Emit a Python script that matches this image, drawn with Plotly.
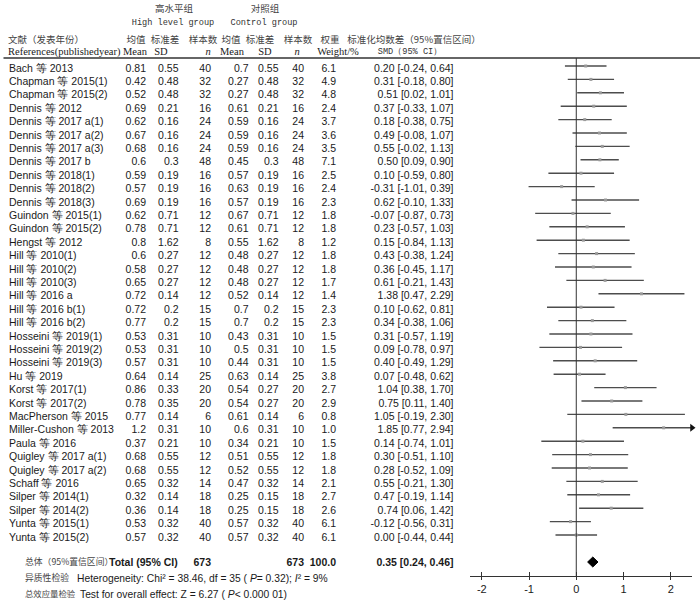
import plotly.graph_objects as go

# ---------------- data ----------------
studies = ["Bach 等 2013", "Chapman 等 2015(1)", "Chapman 等 2015(2)", "Dennis 等 2012",
           "Dennis 等 2017 a(1)", "Dennis 等 2017 a(2)", "Dennis 等 2017 a(3)", "Dennis 等 2017 b",
           "Dennis 等 2018(1)", "Dennis 等 2018(2)", "Dennis 等 2018(3)", "Guindon 等 2015(1)",
           "Guindon 等 2015(2)", "Hengst 等 2012", "Hill 等 2010(1)", "Hill 等 2010(2)",
           "Hill 等 2010(3)", "Hill 等 2016 a", "Hill 等 2016 b(1)", "Hill 等 2016 b(2)",
           "Hosseini 等 2019(1)", "Hosseini 等 2019(2)", "Hosseini 等 2019(3)", "Hu 等 2019",
           "Korst 等 2017(1)", "Korst 等 2017(2)", "MacPherson 等 2015", "Miller-Cushon 等 2013",
           "Paula 等 2016", "Quigley 等 2017 a(1)", "Quigley 等 2017 a(2)", "Schaff 等 2016",
           "Silper 等 2014(1)", "Silper 等 2014(2)", "Yunta 等 2015(1)", "Yunta 等 2015(2)"]
high_mean = [0.81, 0.42, 0.52, 0.69, 0.62, 0.67, 0.68, 0.6, 0.59, 0.57, 0.69, 0.62, 0.78, 0.8,
             0.6, 0.58, 0.65, 0.72, 0.72, 0.77, 0.53, 0.53, 0.57, 0.64, 0.86, 0.78, 0.77, 1.2,
             0.37, 0.68, 0.68, 0.65, 0.32, 0.36, 0.53, 0.57]
high_sd = [0.55, 0.48, 0.48, 0.21, 0.16, 0.16, 0.16, 0.3, 0.19, 0.19, 0.19, 0.71, 0.71, 1.62,
           0.27, 0.27, 0.27, 0.14, 0.2, 0.2, 0.31, 0.31, 0.31, 0.14, 0.33, 0.35, 0.14, 0.31,
           0.21, 0.55, 0.55, 0.32, 0.14, 0.14, 0.32, 0.32]
high_n = [40, 32, 32, 16, 24, 24, 24, 48, 16, 16, 16, 12, 12, 8, 12, 12, 12, 12, 15, 15,
          10, 10, 10, 25, 20, 20, 6, 10, 10, 12, 12, 14, 18, 18, 40, 40]
ctrl_mean = [0.7, 0.27, 0.27, 0.61, 0.59, 0.59, 0.59, 0.45, 0.57, 0.63, 0.57, 0.67, 0.61, 0.55,
             0.48, 0.48, 0.48, 0.52, 0.7, 0.7, 0.43, 0.5, 0.44, 0.63, 0.54, 0.54, 0.61, 0.6,
             0.34, 0.51, 0.52, 0.47, 0.25, 0.25, 0.57, 0.57]
ctrl_sd = [0.55, 0.48, 0.48, 0.21, 0.16, 0.16, 0.16, 0.3, 0.19, 0.19, 0.19, 0.71, 0.71, 1.62,
           0.27, 0.27, 0.27, 0.14, 0.2, 0.2, 0.31, 0.31, 0.31, 0.14, 0.27, 0.27, 0.14, 0.31,
           0.21, 0.55, 0.55, 0.32, 0.15, 0.15, 0.32, 0.32]
ctrl_n = [40, 32, 32, 16, 24, 24, 24, 48, 16, 16, 16, 12, 12, 8, 12, 12, 12, 12, 15, 15,
          10, 10, 10, 25, 20, 20, 6, 10, 10, 12, 12, 14, 18, 18, 40, 40]
weight = [6.1, 4.9, 4.8, 2.4, 3.7, 3.6, 3.5, 7.1, 2.5, 2.4, 2.3, 1.8, 1.8, 1.2, 1.8, 1.8, 1.7,
          1.4, 2.3, 2.3, 1.5, 1.5, 1.5, 3.8, 2.7, 2.9, 0.8, 1.0, 1.5, 1.8, 1.8, 2.1, 2.7, 2.6,
          6.1, 6.1]
smd = [0.20, 0.31, 0.51, 0.37, 0.18, 0.49, 0.55, 0.50, 0.10, -0.31, 0.62, -0.07, 0.23, 0.15,
       0.43, 0.36, 0.61, 1.38, 0.10, 0.34, 0.31, 0.09, 0.40, 0.07, 1.04, 0.75, 1.05, 1.85,
       0.14, 0.30, 0.28, 0.55, 0.47, 0.74, -0.12, 0.00]
ci_low = [-0.24, -0.18, 0.02, -0.33, -0.38, -0.08, -0.02, 0.09, -0.59, -1.01, -0.10, -0.87,
          -0.57, -0.84, -0.38, -0.45, -0.21, 0.47, -0.62, -0.38, -0.57, -0.78, -0.49, -0.48,
          0.38, 0.11, -0.19, 0.77, -0.74, -0.51, -0.52, -0.21, -0.19, 0.06, -0.56, -0.44]
ci_high = [0.64, 0.80, 1.01, 1.07, 0.75, 1.07, 1.13, 0.90, 0.80, 0.39, 1.33, 0.73, 1.03, 1.13,
           1.24, 1.17, 1.43, 2.29, 0.81, 1.06, 1.19, 0.97, 1.29, 0.62, 1.70, 1.40, 2.30, 2.94,
           1.01, 1.10, 1.09, 1.30, 1.14, 1.42, 0.31, 0.44]

total_high_n = 673
total_ctrl_n = 673
total_weight = 100.0
total_smd, total_low, total_high = 0.35, 0.24, 0.46
het_chi2, het_df, het_p, het_i2 = 38.46, 35, 0.32, 9
overall_z = 6.27
axis_ticks = [-2, -1, 0, 1, 2]

# ---------------- layout constants ----------------
W, H = 700, 609
ROW0, STEP = 69, 13.4
FOREST_SHIFT = -3
Y_RULE = 58
Y_TOTAL, Y_DIAMOND, Y_AXIS = 563, 562, 576
Y_HET, Y_TEST = 579, 595
XMIN, XMAX = -2.25, 2.45
FX0, FX1 = 470, 692

SANS = "Liberation Sans, Arial, sans-serif"
SERIF = "Liberation Serif, Times New Roman, serif"
MONO = "Liberation Mono, Courier New, monospace"
CJK = "Noto Sans CJK SC"
TXT = "#1a1a1a"
CJKC = "#444444"

ys = [ROW0 + i * STEP for i in range(len(studies))]
yf = [y + FOREST_SHIFT for y in ys]

fig = go.Figure()


def text_col(x, texts, yvals, pos="middle left", family=SANS, size=10.5, color=TXT):
    fig.add_trace(go.Scatter(
        x=[x] * len(texts), y=yvals, text=texts, mode="text", textposition=pos,
        textfont=dict(family=family, size=size, color=color),
        hoverinfo="skip", showlegend=False, cliponaxis=False, xaxis="x", yaxis="y"))


# header
text_col(174, ["高水平组"], [10], "middle center", CJK, 9.5, CJKC)
text_col(265, ["对照组"], [10], "middle center", CJK, 9.5, CJKC)
text_col(173, ["High level group"], [23], "middle center", MONO, 8.6, "#333333")
text_col(264, ["Control group"], [23], "middle center", MONO, 8.6, "#333333")

text_col(8, ["文献（发表年份）"], [41], "middle right", CJK, 9.5, CJKC)
for xc, t in [(136, "均值"), (165, "标准差"), (203, "样本数"), (231, "均值"), (260, "标准差"),
              (298, "样本数"), (330, "权重"), (414, "标准化均数差（95%置信区间）")]:
    text_col(xc, [t], [41], "middle center", CJK, 9.5, CJKC)

text_col(8, ["References(publishedyear)"], [52], "middle right", SERIF, 10.5)
for xc, t in [(135, "Mean"), (161, "SD"), (208, "<i>n</i>"), (232, "Mean"), (265, "SD"),
              (297, "<i>n</i>"), (338, "Weight/%")]:
    text_col(xc, [t], [52], "middle center", SERIF, 10.5)
text_col(410, ["SMD（95% CI）"], [52], "middle center", MONO, 8.6, "#333333")

# body columns
text_col(9, studies, ys, "middle right")
text_col(146, [str(v) for v in high_mean], ys)
text_col(178.5, [str(v) for v in high_sd], ys)
text_col(211, [str(v) for v in high_n], ys)
text_col(248.5, [str(v) for v in ctrl_mean], ys)
text_col(278.5, [str(v) for v in ctrl_sd], ys)
text_col(304, [str(v) for v in ctrl_n], ys)
text_col(336, [f"{v:.1f}" for v in weight], ys)
text_col(453.5, [f"{s:.2f} [{l:.2f}, {h:.2f}]" for s, l, h in zip(smd, ci_low, ci_high)], ys)

# total row
text_col(25, ["总体（95%置信区间）"], [Y_TOTAL], "middle right", CJK, 8.8, CJKC)
text_col(109, ["<b>Total (95% CI)</b>"], [Y_TOTAL], "middle right")
text_col(211, [f"<b>{total_high_n}</b>"], [Y_TOTAL])
text_col(304, [f"<b>{total_ctrl_n}</b>"], [Y_TOTAL])
text_col(336, [f"<b>{total_weight:.1f}</b>"], [Y_TOTAL])
text_col(453.5, [f"<b>{total_smd:.2f} [{total_low:.2f}, {total_high:.2f}]</b>"], [Y_TOTAL])

text_col(25, ["异质性检验"], [Y_HET], "middle right", CJK, 8.8, CJKC)
text_col(77, [f"Heterogeneity: Chi² = {het_chi2:.2f}, df = {het_df} ( <i>P</i>= {het_p:.2f}); "
              f"<i>I</i>² = {het_i2}%"], [Y_HET], "middle right", SANS, 10.3)
text_col(25, ["总效应量检验"], [Y_TEST], "middle right", CJK, 8.4, CJKC)
text_col(80, [f"Test for overall effect: Z = {overall_z:.2f} ( <i>P</i>&lt; 0.000 01)"],
         [Y_TEST], "middle right", SANS, 10.3)

# forest: CI lines
lx, ly, ax, ay = [], [], [], []
for lo, hi, y in zip(ci_low, ci_high, yf):
    lx += [max(lo, XMIN), min(hi, XMAX), None]
    ly += [y, y, None]
    if hi > XMAX:
        ax.append(XMAX)
        ay.append(y)
fig.add_trace(go.Scatter(x=lx, y=ly, mode="lines", line=dict(color="#4d4d4d", width=1.4),
                         xaxis="x2", yaxis="y", hoverinfo="skip", showlegend=False))
fig.add_trace(go.Scatter(x=smd, y=yf, mode="markers",
                         marker=dict(symbol="square", size=3, color="#9a9a9a"),
                         xaxis="x2", yaxis="y", hoverinfo="skip", showlegend=False))
fig.add_trace(go.Scatter(x=ax, y=ay, mode="markers",
                         marker=dict(symbol="triangle-right", size=7, color="#111111"),
                         xaxis="x2", yaxis="y", hoverinfo="skip", showlegend=False,
                         cliponaxis=False))
# diamond for total
fig.add_trace(go.Scatter(
    x=[total_low, total_smd, total_high, total_smd, total_low],
    y=[Y_DIAMOND, Y_DIAMOND - 5, Y_DIAMOND, Y_DIAMOND + 5, Y_DIAMOND],
    mode="lines", fill="toself", fillcolor="#000000", line=dict(color="#000000", width=1),
    xaxis="x2", yaxis="y", hoverinfo="skip", showlegend=False))
# helper trace so the tick overlay axis is drawn
fig.add_trace(go.Scatter(x=[0], y=[Y_AXIS], mode="markers", marker=dict(opacity=0),
                         xaxis="x3", yaxis="y", hoverinfo="skip", showlegend=False))

fig.add_shape(type="line", xref="paper", yref="y", x0=0.005, x1=1, y0=Y_RULE, y1=Y_RULE,
              line=dict(color="#333333", width=1.5))
fig.add_shape(type="line", xref="x2", yref="y", x0=0, x1=0, y0=Y_RULE, y1=Y_AXIS,
              line=dict(color="#333333", width=1))

fig.update_layout(
    width=W, height=H, margin=dict(l=0, r=0, t=0, b=0),
    paper_bgcolor="white", plot_bgcolor="rgba(0,0,0,0)",
    xaxis=dict(domain=[0, 1], range=[0, W], visible=False, fixedrange=True),
    yaxis=dict(domain=[0, 1], range=[H, 0], visible=False, fixedrange=True),
    xaxis2=dict(domain=[FX0 / W, FX1 / W], range=[XMIN, XMAX], anchor="free",
                position=1 - Y_AXIS / H, showline=True, linecolor="#333333", linewidth=1,
                ticks="outside", ticklen=3, tickcolor="#333333", tickvals=axis_ticks,
                ticktext=[str(t) for t in axis_ticks],
                tickfont=dict(family=SANS, size=11, color=TXT),
                showgrid=False, zeroline=False, fixedrange=True),
    xaxis3=dict(domain=[FX0 / W, FX1 / W], range=[XMIN, XMAX], anchor="free",
                overlaying="x2", position=1 - Y_AXIS / H, showline=False,
                ticks="inside", ticklen=4, tickcolor="#333333", tickvals=axis_ticks,
                showticklabels=False, showgrid=False, zeroline=False, fixedrange=True),
    showlegend=False,
    hovermode=False,
)

fig.write_html("out.html", config={"displayModeBar": False, "staticPlot": True},
               post_script="document.body.style.margin='0';document.body.style.padding='0';")
